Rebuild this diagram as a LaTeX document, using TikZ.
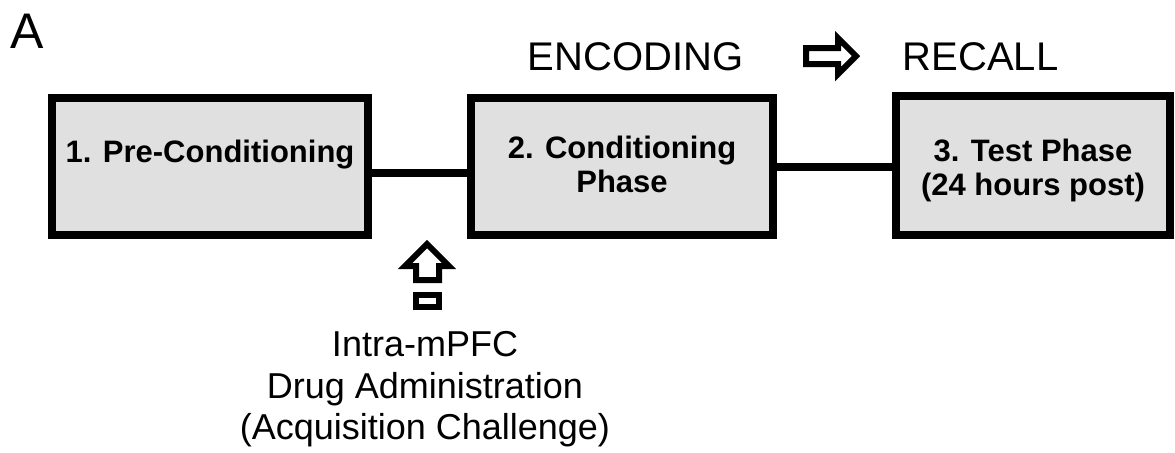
\documentclass[tikz,border=0pt]{standalone}
\usepackage{fontspec}
\setmainfont{Liberation Sans}
\usetikzlibrary{positioning}
\definecolor{boxgray}{gray}{0.88}

\begin{document}
\begin{tikzpicture}[
			x=0.5pt, y=-0.5pt
			,phase/.style={rectangle, draw, line width=4pt, fill=boxgray, align=center, inner sep=0pt, font=\fontsize{15.5}{17}\selectfont\bfseries}
			,link/.style={line width=4pt}
			,hollow/.style={draw, line width=3pt, miter limit=10}
			,cue/.style={inner sep=0pt, font=\fontsize{20}{24}\selectfont}
		]
			\useasboundingbox (0,0) rectangle (1175,452);
			\node [inner sep=0pt, anchor=base west, font=\fontsize{25}{30}\selectfont] (panel) at (10,48) {A};
			% the three phases
			\node [phase, minimum width=158pt, minimum height=68.5pt, text depth=15pt] (pre) at (210,166.5) {1. Pre-Conditioning};
			\node [phase, minimum width=151pt, minimum height=68.5pt] (cond) at (622,166.5) {2. Conditioning\\Phase\rule[-2pt]{0pt}{0pt}};
			\node [phase, minimum width=137pt, minimum height=69.5pt] (test) at (1033,165.5) {3. Test Phase\rule{0pt}{16pt}\\(24 hours post)};
			\draw [link] ([yshift=-3.25pt]pre.east) -- ([yshift=-3.25pt]cond.west);
			\draw [link] (cond.east) -- (cond.east -| test.west);
			% encoding -> recall
			\node [cue, anchor=base] (enc) at (635.5,70) {ENCODING};
			\node [cue, anchor=base] (rec) at (980.5,70) {RECALL};
			\draw [hollow] (806,48) -- (838,48) -- (838,38) -- (856,56) -- (838,74) -- (838,64) -- (806,64) -- cycle;
			% injection
			\draw [hollow] (416,280) -- (416,266) -- (405,266) -- (427,244) -- (449,266) -- (439,266) -- (439,280) -- cycle;
			\draw [hollow] (416,295) rectangle (439,307);
			\node [inner sep=0pt, anchor=north, align=center, font=\fontsize{18}{20.75}\selectfont] (drug) at (425,331) {Intra-mPFC\\Drug Administration\\(Acquisition Challenge)};
		\end{tikzpicture}
\end{document}
